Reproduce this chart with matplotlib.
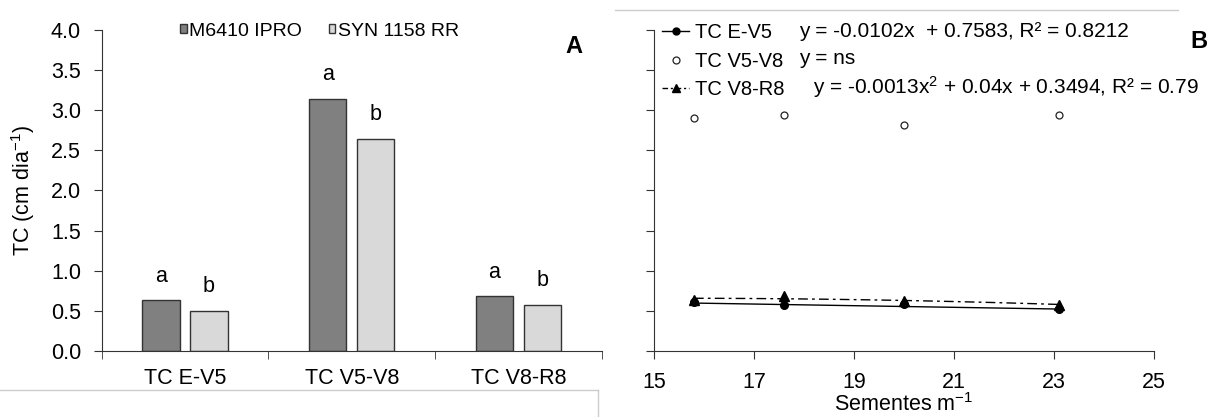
import numpy as np
import matplotlib
matplotlib.use("Agg")
import matplotlib.pyplot as plt
from matplotlib.lines import Line2D
from matplotlib.legend_handler import HandlerLine2D

plt.rcParams["font.family"] = ["Liberation Sans", "DejaVu Sans"]
plt.rcParams["mathtext.fontset"] = "custom"
plt.rcParams["mathtext.rm"] = "Liberation Sans"
plt.rcParams["mathtext.it"] = "Liberation Sans:italic"
FS = 15.5
plt.rcParams["font.size"] = FS

# panel A: growth rate per phase for the two cultivars
phases = ["TC E-V5", "TC V5-V8", "TC V8-R8"]
cultivars = ["M6410 IPRO", "SYN 1158 RR"]
tc_m6410 = [0.63, 3.14, 0.68]
tc_syn = [0.50, 2.64, 0.57]
letters_m6410 = ["a", "a", "a"]
letters_syn = ["b", "b", "b"]

# panel B: growth rate against seeding density
density = [15.8, 17.6, 20.0, 23.1]
tc_ev5 = [0.61, 0.57, 0.59, 0.52]
tc_v5v8 = [2.90, 2.94, 2.82, 2.94]
tc_v8r8 = [0.64, 0.68, 0.62, 0.57]
coef_ev5 = [-0.0102, 0.7583]          # linear fit
coef_v8r8 = [-0.0013, 0.04, 0.3494]   # quadratic fit
eq_ev5 = "y = -0.0102x  + 0.7583, R² = 0.8212"
eq_v5v8 = "y = ns"
eq_v8r8 = "y = -0.0013x$\\mathregular{^2}$ + 0.04x + 0.3494, R² = 0.79"


class EndMarker(HandlerLine2D):
    # put the legend marker at the right end of the line sample
    def get_xdata(self, legend, xdescent, ydescent, width, height, fontsize):
        xdata, _ = super().get_xdata(legend, xdescent, ydescent, width, height, fontsize)
        return xdata, [xdata[-1]]


fig = plt.figure(figsize=(12.21, 4.17), dpi=100)
axA = fig.add_axes([0.0833, 0.1583, 0.4095, 0.7698])
axB = fig.add_axes([0.5356, 0.1583, 0.4095, 0.7698])

# ---- panel A ----
x = np.arange(len(phases))
w = 0.225
off = 0.144
bars1 = axA.bar(x - off, tc_m6410, w, color="#808080", edgecolor="#333333", linewidth=1.0, label=cultivars[0])
bars2 = axA.bar(x + off, tc_syn, w, color="#d9d9d9", edgecolor="#333333", linewidth=1.0, label=cultivars[1])
for b, t in zip(bars1, letters_m6410):
    axA.annotate(t, (b.get_x() + b.get_width() / 2, b.get_height()), xytext=(0, 10),
                 textcoords="offset points", ha="center", va="bottom", fontsize=FS)
for b, t in zip(bars2, letters_syn):
    axA.annotate(t, (b.get_x() + b.get_width() / 2, b.get_height()), xytext=(0, 10),
                 textcoords="offset points", ha="center", va="bottom", fontsize=FS)

axA.set_xlim(-0.5, 2.5)
axA.set_ylim(0, 4.0)
axA.set_yticks(np.arange(0, 4.01, 0.5))
axA.set_yticklabels([f"{v:.1f}" for v in np.arange(0, 4.01, 0.5)])
axA.set_xticks(x)
axA.set_xticklabels(phases)
axA.set_xticks([-0.5, 0.5, 1.5, 2.5], minor=True)
axA.tick_params(axis="x", which="major", length=0, pad=12, labelsize=FS)
axA.tick_params(axis="x", which="minor", length=6, direction="out", color="#333333")
axA.tick_params(axis="y", length=6, direction="out", color="#333333", pad=9, labelsize=FS)
for s in ["top", "right"]:
    axA.spines[s].set_visible(False)
for s in ["left", "bottom"]:
    axA.spines[s].set_color("#333333")
axA.set_ylabel("TC (cm dia$\\mathregular{^{-1}}$)", fontsize=FS, labelpad=10)
axA.legend(loc="upper left", bbox_to_anchor=(0.157, 1.022), ncol=2, frameon=False,
           borderpad=0, borderaxespad=0, handlelength=0.33, handleheight=0.33,
           handletextpad=0.12, columnspacing=1.4, fontsize=14)
fig.text(0.463, 0.873, "A", fontsize=17, fontweight="bold")

# ---- panel B ----
xs = np.linspace(min(density), max(density), 100)
axB.plot(xs, np.polyval(coef_ev5, xs), color="black", linewidth=1.0)
axB.plot(xs, np.polyval(coef_v8r8, xs), color="black", linewidth=1.0, dashes=(7, 3, 2, 3))
axB.plot(density, tc_ev5, "o", color="black", markersize=5.5)
axB.plot(density, tc_v5v8, "o", markerfacecolor="white", markeredgecolor="#222222",
         markeredgewidth=0.9, markersize=5)
axB.plot(density, tc_v8r8, "^", color="black", markersize=6.5)

axB.set_xlim(15, 25)
axB.set_ylim(0, 4.0)
axB.set_xticks(np.arange(15, 26, 2))
axB.set_yticks(np.arange(0, 4.01, 0.5))
axB.set_yticklabels([])
axB.tick_params(axis="x", length=6, direction="out", pad=9, color="#333333", labelsize=FS)
axB.tick_params(axis="y", length=6, direction="out", color="#333333")
for s in ["top", "right"]:
    axB.spines[s].set_visible(False)
for s in ["left", "bottom"]:
    axB.spines[s].set_color("#333333")
axB.set_xlabel("Sementes m$\\mathregular{^{-1}}$", fontsize=FS, labelpad=0)

handles = [
    Line2D([], [], color="black", linewidth=1.0, marker="o", markersize=5),
    Line2D([], [], linestyle="none", marker="o", markerfacecolor="white",
           markeredgecolor="#222222", markeredgewidth=0.9, markersize=5),
    Line2D([], [], color="black", linewidth=1.0, dashes=(4, 2, 1.5, 2), marker="^", markersize=6),
]
axB.legend(handles, ["TC E-V5", "TC V5-V8", "TC V8-R8"], loc="upper left",
           bbox_to_anchor=(0.016, 1.022), frameon=False, borderpad=0, borderaxespad=0,
           handlelength=1.35, handletextpad=0.3, labelspacing=0.48, fontsize=14.5,
           numpoints=1, handler_map={Line2D: EndMarker(numpoints=1)})
axB.text(0.29, 0.978, eq_ev5, transform=axB.transAxes, fontsize=15, va="baseline")
axB.text(0.29, 0.893, eq_v5v8, transform=axB.transAxes, fontsize=15, va="baseline")
axB.text(0.318, 0.800, eq_v8r8, transform=axB.transAxes, fontsize=15, va="baseline")
fig.text(0.975, 0.885, "B", fontsize=17, fontweight="bold")

# thin gray rules around the panels
fig.add_artist(Line2D([0.0, 0.4898], [0.065, 0.065], color="#cccccc", linewidth=1.0))
fig.add_artist(Line2D([0.4898, 0.4898], [0.0, 0.065], color="#cccccc", linewidth=1.0))
fig.add_artist(Line2D([0.504, 0.965], [0.975, 0.975], color="#cccccc", linewidth=1.0))

fig.savefig("out.png", dpi=100)
